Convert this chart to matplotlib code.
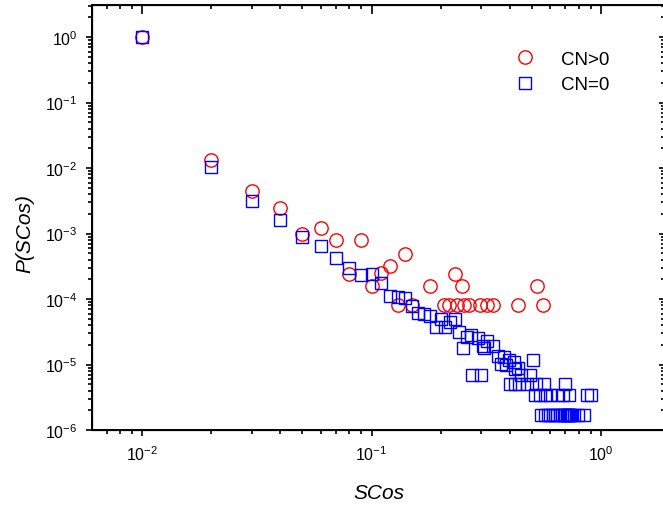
import matplotlib
matplotlib.use("Agg")
import matplotlib.pyplot as plt
from matplotlib.ticker import LogLocator, NullFormatter

# SCos distribution
cn_pos_x = [0.01, 0.02, 0.03, 0.04, 0.05, 0.06, 0.07, 0.08, 0.09, 0.10,
            0.11, 0.12, 0.13, 0.14, 0.15, 0.18, 0.207, 0.218, 0.23, 0.236,
            0.249, 0.254, 0.267, 0.298, 0.318, 0.337, 0.436, 0.528, 0.556]
cn_pos_y = [1.0, 0.0135, 0.0044, 0.0025, 9.9e-4, 1.22e-3, 8.1e-4, 2.4e-4, 8.1e-4, 1.6e-4,
            2.5e-4, 3.2e-4, 8e-5, 4.9e-4, 8e-5, 1.6e-4, 8e-5, 8e-5, 2.4e-4, 8e-5,
            1.6e-4, 8e-5, 8e-5, 8e-5, 8e-5, 8e-5, 8e-5, 1.6e-4, 8e-5]

cn_zero_x = [0.01, 0.02, 0.03, 0.04, 0.05, 0.06, 0.07, 0.08, 0.09, 0.10,
             0.11, 0.12, 0.13, 0.14, 0.15, 0.16, 0.17, 0.18, 0.19, 0.20,
             0.21, 0.22, 0.23, 0.24, 0.25, 0.26, 0.27, 0.275, 0.29, 0.30,
             0.305, 0.31, 0.32, 0.337, 0.357, 0.366, 0.378, 0.386, 0.398, 0.40,
             0.418, 0.42, 0.422, 0.436, 0.44, 0.45, 0.475, 0.49, 0.507, 0.515,
             0.52, 0.542, 0.565, 0.57, 0.60, 0.652, 0.686, 0.70, 0.728, 0.87,
             0.90,
             0.55, 0.57, 0.59, 0.60, 0.615, 0.63, 0.645, 0.66, 0.675, 0.69,
             0.70, 0.71, 0.715, 0.72, 0.725, 0.73, 0.74, 0.76, 0.79, 0.84]
cn_zero_y = [1.0, 0.0105, 0.0032, 0.0016, 9.0e-4, 6.5e-4, 4.25e-4, 2.95e-4, 2.3e-4, 2.4e-4,
             1.75e-4, 1.1e-4, 1.06e-4, 1.03e-4, 7.9e-5, 6.2e-5, 5.9e-5, 5.6e-5, 3.7e-5, 5.0e-5,
             3.7e-5, 4.4e-5, 5.0e-5, 3.1e-5, 1.77e-5, 2.6e-5, 2.8e-5, 6.8e-6, 2.5e-5, 6.8e-6,
             1.9e-5, 1.77e-5, 2.3e-5, 1.9e-5, 1.36e-5, 1.02e-5, 1.29e-5, 1.0e-5, 1.17e-5, 5.1e-6,
             1.1e-5, 5.1e-6, 8.5e-6, 8.8e-6, 5.1e-6, 6.8e-6, 5.1e-6, 6.8e-6, 1.19e-5, 3.4e-6,
             5.1e-6, 3.4e-6, 5.1e-6, 3.4e-6, 3.4e-6, 3.4e-6, 3.4e-6, 5.1e-6, 3.4e-6, 3.4e-6,
             3.4e-6,
             1.7e-6, 1.7e-6, 1.7e-6, 1.7e-6, 1.7e-6, 1.7e-6, 1.7e-6, 1.7e-6, 1.7e-6, 1.7e-6,
             1.7e-6, 1.7e-6, 1.7e-6, 1.7e-6, 1.7e-6, 1.7e-6, 1.7e-6, 1.7e-6, 1.7e-6, 1.7e-6]

plt.rcParams['font.family'] = ['Liberation Sans', 'DejaVu Sans']
plt.rcParams['mathtext.fontset'] = 'custom'
plt.rcParams['mathtext.rm'] = 'Liberation Sans'
plt.rcParams['mathtext.it'] = 'Liberation Sans:italic'

fig = plt.figure(figsize=(6.63, 5.10), dpi=100)
ax = fig.add_axes([92 / 663, 1 - 431 / 510, (665 - 92) / 663, (431 - 6) / 510])

ax.plot(cn_pos_x, cn_pos_y, 'o', ls='none', ms=9.6, mfc='none', mec='red',
        mew=1.0, label='CN>0')
ax.plot(cn_zero_x, cn_zero_y, 's', ls='none', ms=8.7, mfc='none', mec='blue',
        mew=1.0, label='CN=0')

ax.set_xscale('log')
ax.set_yscale('log')
ax.set_xlim(0.00605, 1.90)
ax.set_ylim(1e-6, 3.1)

for axis in (ax.xaxis, ax.yaxis):
    axis.set_major_locator(LogLocator(base=10, numticks=20))
    axis.set_minor_locator(LogLocator(base=10, subs=range(2, 10), numticks=20))
    axis.set_minor_formatter(NullFormatter())

ax.tick_params(which='both', direction='out', width=1.2, labelsize=11.5,
               top=False, right=False)
ax.tick_params(which='major', length=4.5, pad=6)
ax.tick_params(which='minor', length=2.6)
for sp in ax.spines.values():
    sp.set_linewidth(1.4)

# top / right axes with inward ticks
top = ax.twiny()
top.set_xscale('log')
top.set_xlim(ax.get_xlim())
top.xaxis.set_major_locator(LogLocator(base=10, numticks=20))
top.xaxis.set_minor_locator(LogLocator(base=10, subs=range(2, 10), numticks=20))
top.tick_params(which='both', direction='in', width=1.2, labeltop=False)
top.tick_params(which='major', length=6.5)
top.tick_params(which='minor', length=3.2)
right = ax.twinx()
right.set_yscale('log')
right.set_ylim(ax.get_ylim())
right.yaxis.set_major_locator(LogLocator(base=10, numticks=20))
right.yaxis.set_minor_locator(LogLocator(base=10, subs=range(2, 10), numticks=20))
right.tick_params(which='both', direction='in', width=1.2, labelright=False)
right.tick_params(which='major', length=4.5)
right.tick_params(which='minor', length=2.6)

ax.set_xlabel('SCos', fontsize=15, style='italic', labelpad=14)
ax.set_ylabel('P(SCos)', fontsize=15, style='italic', labelpad=10)
ax.yaxis.set_label_coords(-0.1, 0.465)

ax.legend(loc='upper left', bbox_to_anchor=(0.71, 0.91), frameon=False,
          fontsize=13.5, handletextpad=0.9, labelspacing=0.45,
          borderaxespad=0)

fig.savefig('out.png', dpi=100)
